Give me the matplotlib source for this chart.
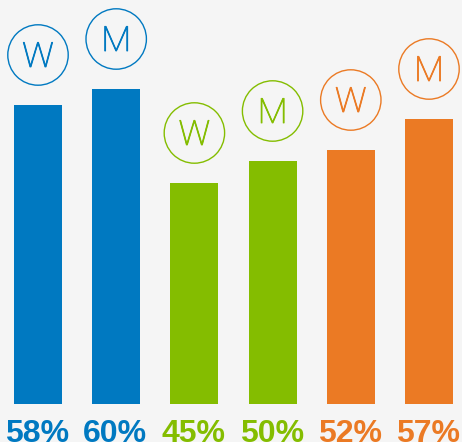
#!/usr/bin/env python3
"""
Grouped percentage bars (women / men) with circled letter markers
"""

import matplotlib.pyplot as plt
import matplotlib.patheffects as pe

# data
groups = ['W', 'M', 'W', 'M', 'W', 'M']
pct_labels = ['58%', '60%', '45%', '50%', '52%', '57%']
bar_heights = [299, 315, 221, 243, 254, 285]   # drawn heights (px scale of the original)
colors = ['#0079c1', '#0079c1', '#84bd00', '#84bd00', '#eb7a24', '#eb7a24']

BG = '#f5f5f5'


def draw_chart(out_path='out.png'):
    fig = plt.figure(figsize=(4.62, 4.42), dpi=100, facecolor=BG)
    ax = fig.add_axes([0, 0, 1, 1])
    ax.set_facecolor(BG)

    # one y unit == one pixel, bars start at 404 px from the top
    step = 78.2
    ax.set_xlim(-38 / step, (462 - 38) / step)
    ax.set_ylim(-(442 - 404), 404)
    ax.axis('off')

    x = list(range(len(bar_heights)))
    ax.bar(x, bar_heights, width=48 / step, color=colors, linewidth=0)

    # circled letters above each bar
    centers = [h + 50 for h in bar_heights]
    ax.scatter(x, centers, s=43.5 ** 2, facecolors='none', edgecolors=colors,
               linewidths=1.0, zorder=3)
    for xi, cy, letter, c in zip(x, centers, groups, colors):
        # thin face, thickened a little so it sits between thin and regular
        ax.text(xi, cy - 12, letter, ha='center', va='baseline', color=c,
                fontsize=25, fontfamily='Roboto', fontweight=100,
                path_effects=[pe.withStroke(linewidth=0.6, foreground=c)])

    # percentage labels under the bars (cut by the bottom edge, as in the original)
    for xi, lab, c in zip(x, pct_labels, colors):
        ax.text(xi - 0.01, -38.5, lab, ha='center', va='baseline', color=c,
                fontsize=23, fontfamily='Liberation Sans', fontweight='bold')

    fig.savefig(out_path, dpi=100, facecolor=BG)


if __name__ == '__main__':
    draw_chart()
